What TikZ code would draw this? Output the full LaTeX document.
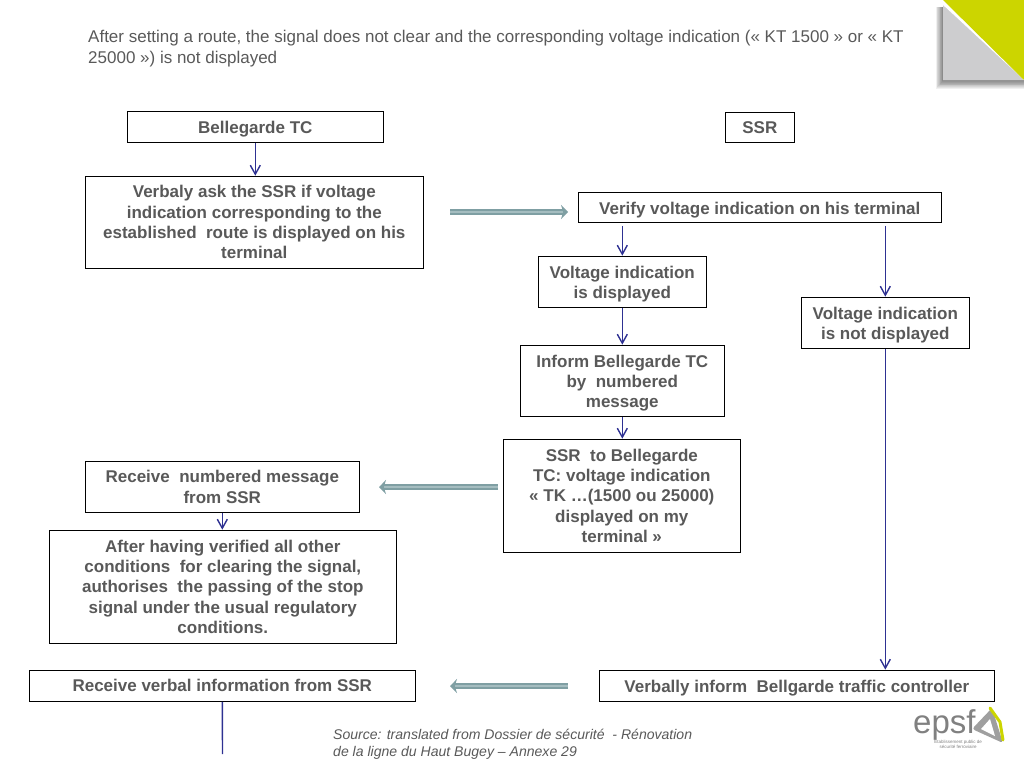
\documentclass[tikz,border=0pt]{standalone}
\usepackage{fontspec}
\setmainfont{Liberation Sans}
\usepackage{xcolor}
\usetikzlibrary{arrows.meta}
\definecolor{textgray}{HTML}{595959}
\definecolor{flowblue}{HTML}{2E3192}
\definecolor{fatteal}{HTML}{7F9FA3}
\definecolor{fatlight}{HTML}{A5BDC0}
\definecolor{cornergray}{HTML}{CDCDCF}
\definecolor{corneryellow}{HTML}{CCD500}
\newcommand{\nudge}{\mbox{}\\[-3.3pt]}
\tikzset{
    flowbox/.style={draw=black, line width=0.8pt, fill=white, text=textgray, align=center,
        inner sep=0pt, font=\fontsize{17}{20.3}\selectfont\bfseries},
    flowline/.style={draw=flowblue, line width=1.4pt},
    flowarrow/.style={flowline, -{Straight Barb[length=9pt,width=10pt]}},
    fatarrow/.style={draw=fatteal, line width=2pt, double=fatlight, double distance=2.2pt,
        -{Stealth[length=7pt,width=14pt,fill=fatteal]}},
    plaintext/.style={text=textgray, align=left, inner sep=0pt, anchor=north west}
}
\begin{document}
\begin{tikzpicture}[x=1pt,y=-1pt]
    \useasboundingbox (0,0) rectangle (1024,768);
    % corner
    \foreach \i in {1,...,10} {
        \fill[black, opacity=0.06] (943-\i*0.7,7) -- (943-\i*0.7,80+\i*0.9) -- (1024,80+\i*0.9) -- (1024,7) -- cycle;
    }
    \fill[cornergray] (943,5) -- (943,80) -- (1024,80) -- cycle;
    \fill[white] (943,0) -- (943,5) -- (1024,80) -- (1024,0) -- cycle;
    \fill[corneryellow] (943,0) -- (1024,0) -- (1024,80) -- cycle;

    % title
    \node[plaintext, font=\fontsize{17}{20.6}\selectfont] (title) at (88,30)
        {After setting a route, the signal does not clear and the corresponding voltage indication (« KT 1500 » or « KT\\25000 ») is not displayed};

    % left column
    \node[flowbox, minimum width=256.5pt, minimum height=31.5pt] (bellegarde) at (255.3,126.8) {\nudge Bellegarde TC};
    \node[flowbox, minimum width=338.5pt, minimum height=92.5pt] (verbaly) at (254.3,222.3)
        {Verbaly ask the SSR if voltage\\indication corresponding to the\\established\ \ route is displayed on his\\terminal};
    \node[flowbox, minimum width=274.5pt, minimum height=51.5pt] (receive) at (222.3,486.8)
        {Receive\ \ numbered message\\from SSR};
    \node[flowbox, minimum width=347.5pt, minimum height=113.5pt] (after) at (222.8,586.8)
        {After having verified all other\\conditions\ \ for clearing the signal,\\authorises\ \ the passing of the stop\\signal under the usual regulatory\\conditions.};
    \node[flowbox, minimum width=386.5pt, minimum height=31.5pt] (verbal) at (222.3,685.8) {Receive verbal information from SSR};

    % right columns
    \node[flowbox, minimum width=69.5pt, minimum height=30.5pt] (ssr) at (759.8,127.3) {SSR};
    \node[flowbox, minimum width=363.5pt, minimum height=30.5pt] (verify) at (759.8,207.3) {\nudge Verify voltage indication on his terminal};
    \node[flowbox, minimum width=168.5pt, minimum height=51.5pt] (shown) at (622.3,281.8) {\nudge Voltage indication\\is displayed};
    \node[flowbox, minimum width=168.5pt, minimum height=51.5pt] (notshown) at (885.3,322.8) {\nudge Voltage indication\\is not displayed};
    \node[flowbox, minimum width=204.5pt, minimum height=71.5pt] (inform) at (622.3,380.8) {\nudge Inform Bellegarde TC\\by\ \ numbered\\message};
    \node[flowbox, minimum width=237.5pt, minimum height=113.5pt] (message) at (621.8,495.8)
        {SSR\ \ to Bellegarde\\TC: voltage indication\\« TK …(1500 ou 25000)\\displayed on my\\terminal »};
    \node[flowbox, minimum width=395.5pt, minimum height=31.5pt] (inform2) at (796.8,685.8) {\nudge Verbally inform\ \ Bellgarde traffic controller};

    % connectors
    \draw[flowarrow] (bellegarde.south) -- (bellegarde.south |- verbaly.north);
    \draw[flowarrow, shorten <=3pt] (verify.south -| shown.north) -- (shown.north);
    \draw[flowarrow, shorten <=3pt] (verify.south -| notshown.north) -- (notshown.north);
    \draw[flowarrow] (shown.south) -- (inform.north);
    \draw[flowarrow] (inform.south) -- (inform.south |- message.north);
    \draw[flowarrow] (receive.south) -- (after.north -| receive.south);
    \draw[flowarrow] (notshown.south) -- (inform2.north -| notshown.south);
    \coordinate (verbalend) at (222.5,754);
    \draw[flowline] (verbal.south) -- (verbalend);

    % fat arrows
    \coordinate (fatastart) at (450,212);
    \coordinate (fataend) at (568,212);
    \coordinate (fatbstart) at (498,487);
    \coordinate (fatbend) at (379,487);
    \coordinate (fatcstart) at (568,686);
    \coordinate (fatcend) at (450,686);
    \draw[fatarrow] (fatastart) -- (fataend);
    \draw[fatarrow] (fatbstart) -- (fatbend);
    \draw[fatarrow] (fatcstart) -- (fatcend);

    % source
    \node[plaintext, font=\fontsize{14.05}{17}\selectfont\itshape] (source) at (333,728.5)
        {Source: translated from Dossier de sécurité\ \ - Rénovation\\de la ligne du Haut Bugey – Annexe 29};

    % logo
    \fill[gray!75, rounded corners=3pt] (972,729) -- (992,708) -- (1003,743) -- cycle;
    \fill[white] (981,729) -- (990,719) -- (995,736) -- cycle;
    \draw[corneryellow, line width=3pt, line cap=round] (990,708) -- (1000,722) -- (1003,740);
    \node[text=gray, inner sep=0pt, anchor=base west, font=\fontsize{33}{33}\selectfont] (epsf) at (913,733) {epsf};
    \node[text=gray, inner sep=0pt, align=center, font=\fontsize{4.5}{5.5}\selectfont] (epsfsub) at (958,744.5) {Etablissement public de\\sécurité ferroviaire};
\end{tikzpicture}
\end{document}
